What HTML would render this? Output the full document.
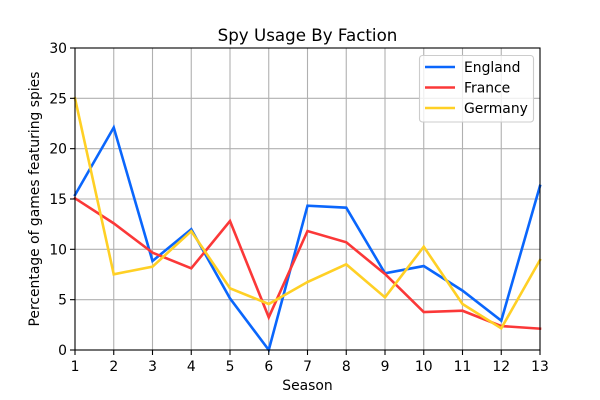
<!DOCTYPE html>
<html><head><meta charset="utf-8"><style>
html,body{margin:0;padding:0;background:#fff;}
svg{display:block;}
text{font-family:"DejaVu Sans","Liberation Sans",sans-serif;fill:#000;}
</style></head><body>
<svg width="600" height="400" viewBox="0 0 600 400" xmlns="http://www.w3.org/2000/svg">
<rect width="600" height="400" fill="#fff"/>
<!-- grid -->
<g stroke="#b0b0b0" stroke-width="1.1">
<line x1="113.75" y1="48" x2="113.75" y2="350"/>
<line x1="152.5" y1="48" x2="152.5" y2="350"/>
<line x1="191.25" y1="48" x2="191.25" y2="350"/>
<line x1="230" y1="48" x2="230" y2="350"/>
<line x1="268.75" y1="48" x2="268.75" y2="350"/>
<line x1="307.5" y1="48" x2="307.5" y2="350"/>
<line x1="346.25" y1="48" x2="346.25" y2="350"/>
<line x1="385" y1="48" x2="385" y2="350"/>
<line x1="423.75" y1="48" x2="423.75" y2="350"/>
<line x1="462.5" y1="48" x2="462.5" y2="350"/>
<line x1="501.25" y1="48" x2="501.25" y2="350"/>
<line x1="75" y1="299.67" x2="540" y2="299.67"/>
<line x1="75" y1="249.33" x2="540" y2="249.33"/>
<line x1="75" y1="199" x2="540" y2="199"/>
<line x1="75" y1="148.67" x2="540" y2="148.67"/>
<line x1="75" y1="98.33" x2="540" y2="98.33"/>
</g>
<!-- series -->
<g fill="none" stroke-width="2.6" stroke-linejoin="miter" stroke-linecap="square">
<polyline stroke="#0a66fc" points="75,194.97 113.75,127.53 152.5,261.01 191.25,229.2 230,298.36 268.75,350 307.5,205.74 346.25,207.66 385,273.29 423.75,266.04 462.5,290.61 501.25,320.71 540,185.91"/>
<polyline stroke="#fb3838" points="75,198.29 113.75,223.36 152.5,252.65 191.25,268.36 230,221.05 268.75,317.28 307.5,231.01 346.25,242.29 385,274 423.75,312.05 462.5,310.74 501.25,326.04 540,328.66"/>
<polyline stroke="#ffd025" points="75,98.33 113.75,274.3 152.5,266.65 191.25,231.21 230,288.29 268.75,304 307.5,282.05 346.25,264.33 385,297.35 423.75,246.72 462.5,304 501.25,328.36 540,260"/>
</g>
<!-- axes frame -->
<rect x="75" y="48" width="465" height="302" fill="none" stroke="#000" stroke-width="1.1"/>
<!-- ticks -->
<g stroke="#000" stroke-width="1.1">
<line x1="75" y1="350" x2="75" y2="355"/>
<line x1="113.75" y1="350" x2="113.75" y2="355"/>
<line x1="152.5" y1="350" x2="152.5" y2="355"/>
<line x1="191.25" y1="350" x2="191.25" y2="355"/>
<line x1="230" y1="350" x2="230" y2="355"/>
<line x1="268.75" y1="350" x2="268.75" y2="355"/>
<line x1="307.5" y1="350" x2="307.5" y2="355"/>
<line x1="346.25" y1="350" x2="346.25" y2="355"/>
<line x1="385" y1="350" x2="385" y2="355"/>
<line x1="423.75" y1="350" x2="423.75" y2="355"/>
<line x1="462.5" y1="350" x2="462.5" y2="355"/>
<line x1="501.25" y1="350" x2="501.25" y2="355"/>
<line x1="540" y1="350" x2="540" y2="355"/>
<line x1="70" y1="350" x2="75" y2="350"/>
<line x1="70" y1="299.67" x2="75" y2="299.67"/>
<line x1="70" y1="249.33" x2="75" y2="249.33"/>
<line x1="70" y1="199" x2="75" y2="199"/>
<line x1="70" y1="148.67" x2="75" y2="148.67"/>
<line x1="70" y1="98.33" x2="75" y2="98.33"/>
<line x1="70" y1="48" x2="75" y2="48"/>
</g>
<g font-size="13.9" text-anchor="middle">
<text x="75" y="371">1</text>
<text x="113.75" y="371">2</text>
<text x="152.5" y="371">3</text>
<text x="191.25" y="371">4</text>
<text x="230" y="371">5</text>
<text x="268.75" y="371">6</text>
<text x="307.5" y="371">7</text>
<text x="346.25" y="371">8</text>
<text x="385" y="371">9</text>
<text x="423.75" y="371">10</text>
<text x="462.5" y="371">11</text>
<text x="501.25" y="371">12</text>
<text x="540" y="371">13</text>
</g>
<g font-size="13.9" text-anchor="end">
<text x="67" y="355">0</text>
<text x="67" y="304.67">5</text>
<text x="67" y="254.33">10</text>
<text x="67" y="204">15</text>
<text x="67" y="153.67">20</text>
<text x="67" y="103.33">25</text>
<text x="67" y="53">30</text>
</g>
<text x="307.5" y="390" font-size="13.9" text-anchor="middle">Season</text>
<text transform="translate(39,199) rotate(-90)" font-size="13.9" text-anchor="middle">Percentage of games featuring spies</text>
<text x="307.5" y="41" font-size="16.7" text-anchor="middle">Spy Usage By Faction</text>
<!-- legend -->
<rect x="419.5" y="55.5" width="114" height="66.5" rx="3" ry="3" fill="#fff" fill-opacity="0.8" stroke="#cccccc" stroke-width="1.1"/>
<g stroke-width="2.6">
<line x1="425" y1="67" x2="455" y2="67" stroke="#0a66fc"/>
<line x1="425" y1="87.5" x2="455" y2="87.5" stroke="#fb3838"/>
<line x1="425" y1="108" x2="455" y2="108" stroke="#ffd025"/>
</g>
<g font-size="13.9">
<text x="464" y="72">England</text>
<text x="464" y="92.5">France</text>
<text x="464" y="113">Germany</text>
</g>
</svg>
</body></html>
